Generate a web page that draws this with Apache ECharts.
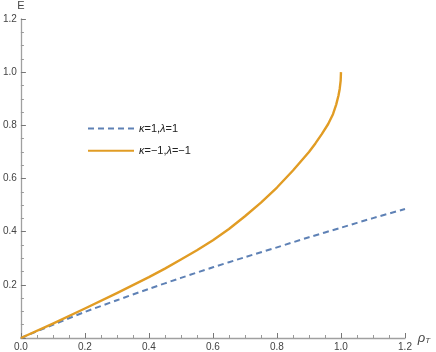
<!DOCTYPE html>
<html>
<head>
<meta charset="utf-8">
<script src="https://cdn.jsdelivr.net/npm/echarts@6/dist/echarts.min.js"></script>
<style>html,body{margin:0;padding:0;background:#fff;}#c{width:436px;height:352px;}</style>
</head>
<body>
<div id="c"></div>
<script>
const seriesNames = ['κ=1,λ=1', 'κ=−1,λ=−1'];
const rhoBlue = [0, 0.1, 0.2, 0.3, 0.4, 0.5, 0.6, 0.7, 0.8, 0.9, 1.0, 1.1, 1.2];
const eBlue   = [0, 0.050, 0.098, 0.142, 0.185, 0.226, 0.266, 0.304, 0.341, 0.379, 0.415, 0.451, 0.485];
const rhoOrange = [0, 0.1, 0.2, 0.3, 0.4, 0.45, 0.5, 0.55, 0.6, 0.65, 0.7, 0.75, 0.8, 0.85, 0.9, 0.92, 0.94, 0.96, 0.975, 0.985, 0.992, 0.996, 0.999, 1.0];
const eOrange   = [0, 0.054, 0.111, 0.169, 0.229, 0.261, 0.295, 0.330, 0.368, 0.410, 0.458, 0.509, 0.566, 0.630, 0.700, 0.732, 0.767, 0.805, 0.842, 0.878, 0.911, 0.937, 0.968, 1.0];
const axisTicks = [0, 0.2, 0.4, 0.6, 0.8, 1.0, 1.2];

const font = "'Liberation Sans', Arial, sans-serif";
const chart = echarts.init(document.getElementById('c'), null, {renderer: 'canvas'});
const pairs = (xs, ys) => xs.map((x, i) => [x, ys[i]]);
const fmt = v => v.toFixed(1);

chart.setOption({
  animation: false,
  backgroundColor: '#fff',
  grid: {left: 19, right: 31, top: 17, bottom: 13, containLabel: false},
  legend: {
    orient: 'vertical',
    left: 82, top: 118,
    itemWidth: 46, itemHeight: 14, itemGap: 11,
    data: seriesNames,
    itemStyle: {opacity: 0},
    formatter: n => n.replace(/([κλ])/g, '{i|$1}'),
    textStyle: {fontFamily: font, fontSize: 11, color: '#222',
      rich: {i: {fontFamily: font, fontSize: 11, fontStyle: 'italic', color: '#222'}}}
  },
  xAxis: {
    type: 'value', min: axisTicks[0], max: axisTicks[axisTicks.length - 1], interval: 0.2,
    name: '{a|ρ}{b|T}', nameLocation: 'end', nameGap: 8,
    nameTextStyle: {rich: {
      a: {fontFamily: font, fontSize: 13, fontStyle: 'italic', color: '#444', verticalAlign: 'bottom'},
      b: {fontFamily: font, fontSize: 8, fontStyle: 'italic', color: '#444', padding: [5, 0, 0, 0]}
    }},
    axisLine: {show: true, onZero: false, lineStyle: {color: '#a0a0a0', width: 1.3}},
    axisTick: {show: true, inside: true, length: 5, lineStyle: {color: '#777'}},
    minorTick: {show: true, splitNumber: 4, length: 3, lineStyle: {color: '#999'}},
    splitLine: {show: false}, minorSplitLine: {show: false},
    axisLabel: {formatter: fmt, margin: 4, fontFamily: font, fontSize: 10, color: '#444'}
  },
  yAxis: {
    type: 'value', min: axisTicks[0], max: axisTicks[axisTicks.length - 1], interval: 0.2,
    name: 'E', nameLocation: 'end', nameGap: 8,
    nameTextStyle: {fontFamily: font, fontSize: 11, color: '#444', align: 'center'},
    axisLine: {show: true, onZero: false, lineStyle: {color: '#a0a0a0', width: 1.3}},
    axisTick: {show: true, inside: true, length: 5, lineStyle: {color: '#777'}},
    minorTick: {show: true, splitNumber: 4, length: 3, lineStyle: {color: '#999'}},
    splitLine: {show: false}, minorSplitLine: {show: false},
    axisLabel: {formatter: v => v === 0 ? '' : fmt(v), margin: 4, fontFamily: font, fontSize: 10, color: '#444'}
  },
  series: [
    {name: seriesNames[0], type: 'line', data: pairs(rhoBlue, eBlue), symbol: 'none', smooth: 0.3,
     lineStyle: {color: '#5E81B5', width: 2, type: [6, 4]}, itemStyle: {color: '#5E81B5'}},
    {name: seriesNames[1], type: 'line', data: pairs(rhoOrange, eOrange), symbol: 'none', smooth: false,
     lineStyle: {color: '#E19C24', width: 2.4, join: 'round'}, itemStyle: {color: '#E19C24'}}
  ]
});
</script>
</body>
</html>
